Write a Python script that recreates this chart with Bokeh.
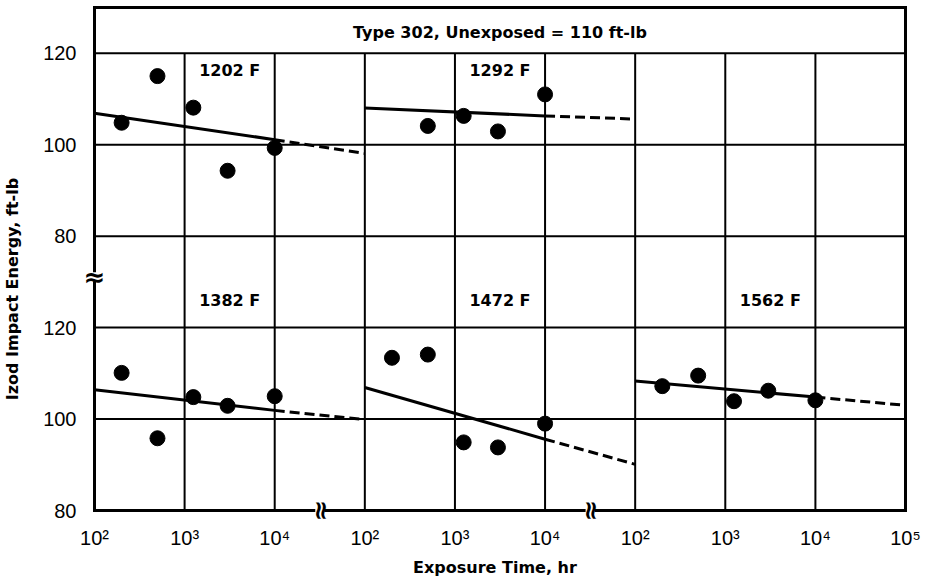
import math
from bokeh.plotting import figure
from bokeh.models import FixedTicker
from bokeh.core.properties import value
from bokeh.embed import file_html
from bokeh.resources import INLINE

# ---------------- data ----------------
header_text = "Type 302, Unexposed = 110 ft-lb"
panel_names = ["1202 F", "1292 F", "1382 F", "1472 F", "1562 F"]
panel_row = ["top", "top", "bottom", "bottom", "bottom"]
panel_seg = [0, 1, 0, 1, 2]

times_1202 = [200, 500, 1250, 3000, 10000]
energy_1202 = [104.8, 115.0, 108.1, 94.3, 99.3]
times_1292 = [500, 1250, 3000, 10000]
energy_1292 = [104.1, 106.3, 102.9, 111.0]
times_1382 = [200, 500, 1250, 3000, 10000]
energy_1382 = [110.1, 95.8, 104.8, 102.9, 105.0]
times_1472 = [200, 500, 1250, 3000, 10000]
energy_1472 = [113.4, 114.1, 94.9, 93.8, 99.0]
times_1562 = [200, 500, 1250, 3000, 10000]
energy_1562 = [107.2, 109.5, 103.9, 106.2, 104.1]

# fitted trend: solid from 1e2 to 1e4 hr, dashed extrapolation to 1e5 hr
fit_times = [100, 10000, 100000]
fit_1202 = [106.9, 101.1, 98.1]
fit_1292 = [108.0, 106.3, 105.6]
fit_1382 = [106.4, 101.9, 99.9]
fit_1472 = [106.9, 95.6, 90.1]
fit_1562 = [108.3, 104.8, 103.0]

x_tick_labels = ["10²", "10³", "10⁴", "10²", "10³", "10⁴", "10²", "10³", "10⁴", "10⁵"]
y_tick_values = [80, 100, 120]
x_title = "Exposure Time, hr"
y_title = "Izod Impact Energy, ft-lb"

panel_times = [times_1202, times_1292, times_1382, times_1472, times_1562]
panel_energy = [energy_1202, energy_1292, energy_1382, energy_1472, energy_1562]
panel_fit = [fit_1202, fit_1292, fit_1382, fit_1472, fit_1562]

# ---------------- coordinate mapping ----------------
DEC_PER_SEG = 3
N_SEG = 3
ROW_OFFSET = {"top": 60, "bottom": 0}
X_MIN, X_MAX = 0, DEC_PER_SEG * N_SEG
Y_MIN, Y_GRID_TOP, Y_MAX = 80, 180, 190


def xpos(seg, t):
    return seg * DEC_PER_SEG + math.log10(t) - 2


def ypos(row, e):
    return e + ROW_OFFSET[row]


# frame is a little larger than the chart box so the axis-break marks show
FRAME_W, FRAME_H = 826, 517
xr = (X_MIN - 0.133, X_MAX + 0.022)
yr = (Y_MIN - 2.62, Y_MAX + 0.44)
PXX = (xr[1] - xr[0]) / FRAME_W
PXY = (yr[1] - yr[0]) / FRAME_H

BOLD_FONT = value("DejaVu Sans")

p = figure(width=81 + FRAME_W + 18, height=5 + FRAME_H + 58, x_range=xr, y_range=yr,
           output_backend="svg", toolbar_location=None,
           min_border_left=81, min_border_right=18, min_border_top=5,
           min_border_bottom=58)
p.background_fill_color = "white"
p.border_fill_color = "white"
p.outline_line_color = None

# axes
n_ticks = len(x_tick_labels)
p.xaxis.ticker = FixedTicker(ticks=list(range(n_ticks)))
p.xaxis.major_label_overrides = {i: lab for i, lab in enumerate(x_tick_labels)}
y_ticks = []
y_over = {}
for row in ["bottom", "top"]:
    for v in y_tick_values:
        y_ticks.append(ypos(row, v))
        y_over[ypos(row, v)] = str(v)
p.yaxis.ticker = FixedTicker(ticks=y_ticks)
p.yaxis.major_label_overrides = y_over
for ax in (p.xaxis[0], p.yaxis[0]):
    ax.axis_line_color = None
    ax.major_tick_line_color = None
    ax.minor_tick_line_color = None
    ax.major_label_text_font = "Liberation Sans"
    ax.major_label_text_font_size = "20px"
    ax.major_label_text_color = "black"
    ax.axis_label_text_font = "DejaVu Sans"
    ax.axis_label_text_font_style = "bold"
    ax.axis_label_text_font_size = "16px"
    ax.axis_label_text_color = "black"
p.xaxis.major_label_standoff = -2
p.yaxis.major_label_standoff = 0
p.xaxis.axis_label = x_title
p.xaxis.axis_label_standoff = 6
# title sits below the frame centre: pad its upper end with no-break spaces
p.yaxis.axis_label = y_title + "\u00a0" * 9
p.yaxis.axis_label_standoff = 18
p.xgrid.visible = False
p.ygrid.visible = False

# grid lines inside the chart box
vx = list(range(X_MIN + 1, X_MAX))
p.segment(x0=vx, y0=[Y_MIN] * len(vx), x1=vx, y1=[Y_GRID_TOP] * len(vx),
          line_color="black", line_width=2)
hy = [t for t in y_ticks if t > Y_MIN]
p.segment(x0=[X_MIN] * len(hy), y0=hy, x1=[X_MAX] * len(hy), y1=hy,
          line_color="black", line_width=2)
# chart box
p.quad(left=[X_MIN], right=[X_MAX], bottom=[Y_MIN], top=[Y_MAX],
       fill_color=None, line_color="black", line_width=3, line_join="miter")

# axis breaks: white gap in the axis line, then the squiggle
xb = [s * DEC_PER_SEG - 0.5 for s in range(1, N_SEG)]
yb = [ypos("bottom", 120) + 11.1]
p.quad(left=[x - 4.5 * PXX for x in xb], right=[x + 4.5 * PXX for x in xb],
       bottom=[Y_MIN - 2.5 * PXY] * len(xb), top=[Y_MIN + 2.5 * PXY] * len(xb),
       fill_color="white", line_color=None)
p.quad(left=[X_MIN - 2.5 * PXX], right=[X_MIN + 2.5 * PXX],
       bottom=[y - 4.5 * PXY for y in yb], top=[y + 4.5 * PXY for y in yb],
       fill_color="white", line_color=None)
p.text(x=xb, y=[Y_MIN] * len(xb), text=["≈"] * len(xb), angle=math.pi / 2,
       text_font=value("DejaVu Sans"), text_font_style="bold",
       text_font_size="26px", text_align="center", text_baseline="middle",
       text_color="black")
p.text(x=[X_MIN] * len(yb), y=yb, text=["≈"] * len(yb),
       text_font=value("DejaVu Sans"), text_font_style="bold",
       text_font_size="26px", text_align="center", text_baseline="middle",
       text_color="black")

# data
for name, row, seg, ts, es, fit in zip(panel_names, panel_row, panel_seg,
                                       panel_times, panel_energy, panel_fit):
    fx = [xpos(seg, t) for t in fit_times]
    fy = [ypos(row, e) for e in fit]
    p.line(fx[:2], fy[:2], line_color="black", line_width=3)
    p.line(fx[1:], fy[1:], line_color="black", line_width=3, line_dash="10 5")
    p.scatter([xpos(seg, t) for t in ts], [ypos(row, e) for e in es],
              size=15, color="black")

# panel labels
lab_x = [seg * DEC_PER_SEG + 1.5 for seg in panel_seg]
lab_y = [ypos(row, 116.2) if row == "top" else ypos(row, 126.0) for row in panel_row]
p.text(x=lab_x, y=lab_y, text=panel_names, text_font=BOLD_FONT,
       text_font_style="bold", text_font_size="16px", text_align="center",
       text_baseline="middle", text_color="black")

# header
p.text(x=[(X_MIN + X_MAX) / 2], y=[(Y_GRID_TOP + Y_MAX) / 2 - 0.4], text=[header_text],
       text_font=BOLD_FONT, text_font_style="bold", text_font_size="16px",
       text_align="center", text_baseline="middle", text_color="black")

open("out.html", "w").write(file_html(p, INLINE))
